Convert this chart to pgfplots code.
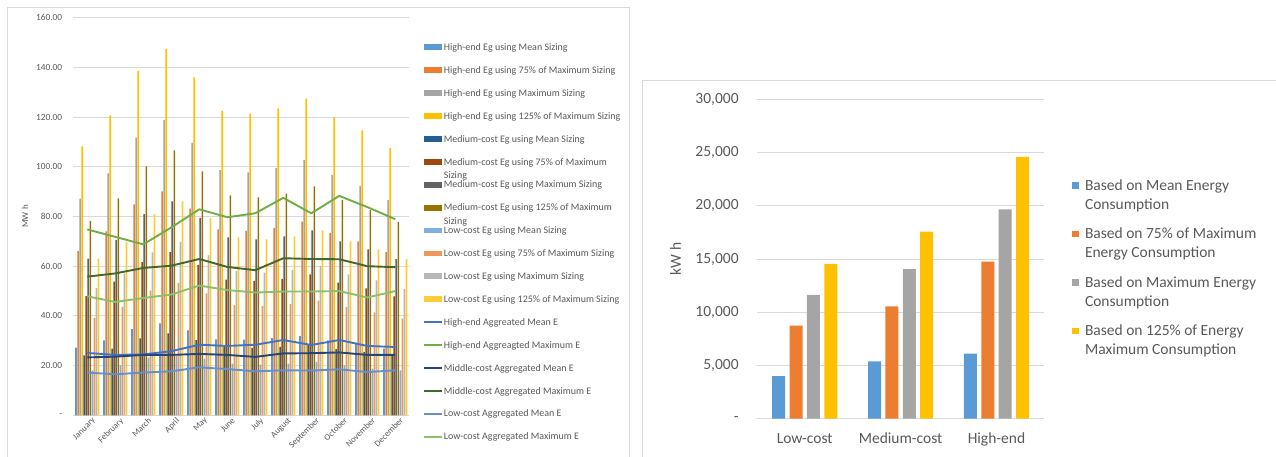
\documentclass[border=0pt]{standalone}
\usepackage{fontspec}
\setmainfont{Carlito}
\usepackage{pgfplots}
\usepackage{pgfplotstable}
\pgfplotsset{compat=1.18}
\definecolor{txt}{HTML}{595959}
\definecolor{grd}{HTML}{D9D9D9}
\definecolor{hmc}{HTML}{5B9BD5}
\definecolor{hqc}{HTML}{ED7D31}
\definecolor{hxc}{HTML}{A5A5A5}
\definecolor{hoc}{HTML}{FFC000}
\definecolor{mmc}{HTML}{255E91}
\definecolor{mqc}{HTML}{9E480E}
\definecolor{mxc}{HTML}{636363}
\definecolor{moc}{HTML}{997300}
\definecolor{lmc}{HTML}{7CAFDD}
\definecolor{lqc}{HTML}{F1975A}
\definecolor{lxc}{HTML}{B7B7B7}
\definecolor{loc}{HTML}{FFCD33}
\definecolor{l1}{HTML}{4472C4}
\definecolor{l2}{HTML}{70AD47}
\definecolor{l3}{HTML}{264478}
\definecolor{l4}{HTML}{43682B}
\definecolor{l5}{HTML}{698ED0}
\definecolor{l6}{HTML}{8CC168}

\pgfplotstableread{
x hm h75 hmax h125 mm m75 mmax m125 lm l75 lmax l125
0 27.2 66.1 87.2 108.2 24.1 48.0 63.0 78.1 18.1 39.2 51.2 63.0
1 30.2 74.0 97.4 120.7 26.8 53.8 70.6 87.3 20.1 43.6 57.1 69.8
2 34.7 84.9 111.7 138.6 31.0 61.6 81.0 100.2 23.2 50.2 65.6 81.0
3 37.0 90.1 118.8 147.5 33.0 65.7 86.1 106.6 24.2 53.2 69.7 86.1
4 34.2 83.2 109.6 136.0 30.3 60.5 79.4 98.2 22.8 49.1 64.4 79.4
5 30.6 74.8 98.7 122.5 27.5 54.6 71.6 88.5 20.8 44.3 58.1 71.6
6 30.5 74.2 97.8 121.4 27.1 54.1 70.8 87.7 20.4 44.0 57.4 70.8
7 31.1 75.4 99.5 123.5 27.5 54.9 72.0 89.2 20.8 44.7 58.4 72.0
8 31.9 77.9 102.7 127.4 28.2 56.7 74.4 92.1 21.5 46.1 60.2 74.4
9 30.1 73.4 96.7 119.9 26.6 53.4 70.0 86.7 20.1 43.5 56.7 70.0
10 28.7 70.0 92.3 114.7 25.5 51.1 66.8 82.6 18.8 41.4 54.3 66.8
11 26.8 65.7 86.6 107.6 24.1 47.9 62.8 77.7 18.1 38.9 50.8 62.8
}\bars

\pgfplotstableread{
x hlm hlx mlm mlx llm llx
0 25.1 74.8 23.3 55.8 17.2 47.9
1 24.3 71.8 23.6 57.1 16.5 45.6
2 24.5 68.8 24.3 59.3 17.2 47.2
3 25.8 75.6 24.3 60.2 17.7 48.6
4 28.4 82.9 24.7 62.9 19.3 52.2
5 27.9 79.7 24.3 59.7 18.6 50.4
6 28.4 81.3 23.5 58.4 17.7 49.4
7 30.3 87.5 24.9 63.2 18.1 49.8
8 28.3 81.3 25.0 62.9 18.0 49.8
9 30.3 88.3 25.3 62.8 18.5 50.0
10 27.9 83.8 24.3 60.0 17.4 47.4
11 27.5 78.9 24.3 59.6 18.1 50.0
}\lines

\pgfplotstableread{
x mean p75 max p125
0 4000 8740 11620 14530
1 5390 10550 14060 17570
2 6110 14750 19670 24580
}\totals

\pgfplotsset{
  lbar/.style 2 args={ybar, bar width=1.72pt, bar shift=#1, draw=none, fill=#2,
    legend image code/.code={\fill[#2] (0pt,0.3pt) rectangle (18pt,6.1pt);}},
  lline/.style={sharp plot, no markers, color=#1, line width=1.9pt, line join=round,
    legend image code/.code={\draw[#1, line width=1.9pt] (0pt,3.2pt) -- (18pt,3.2pt);}},
  rbar/.style 2 args={ybar, bar width=13pt, bar shift=#1, draw=none, fill=#2,
    legend image code/.code={\fill[#2] (0pt,1.5pt) rectangle (6.5pt,8.2pt);}},
}

\begin{document}
\begin{tikzpicture}
\useasboundingbox (0pt,0pt) rectangle (1276pt,457pt);
\draw[grd, line width=0.8pt] (7.3pt,0pt) -- (7.3pt,449.3pt) -- (629.3pt,449.3pt) -- (629.3pt,0pt);
\draw[grd, line width=0.8pt] (642.8pt,0pt) -- (642.8pt,377pt) -- (1276pt,377pt);

\begin{axis}[
  at={(73.3pt,41.7pt)}, anchor=south west,
  scale only axis, width=336pt, height=397.6pt,
  xmin=-0.5, xmax=11.5, ymin=0, ymax=160,
  xtick={0,...,11},
  xticklabels={January,February,March,April,May,June,July,August,September,October,November,December},
  ytick={0,20,...,160},
  yticklabels={-\hspace{5pt},20.00,40.00,60.00,80.00,100.00,120.00,140.00,160.00},
  axis line style={draw=none}, major tick length=0pt,
  ymajorgrids, grid style={grd, line width=0.8pt},
  yticklabel style={font=\fontsize{9.3}{11}\selectfont, text=txt, anchor=east, inner sep=0pt, xshift=-11pt},
  xticklabel style={font=\fontsize{8.7}{10}\selectfont, text=txt, rotate=45, anchor=north east, inner sep=0pt, yshift=-4pt, xshift=2pt},
  ylabel={MW h},
  ylabel style={at={(axis description cs:-0.1437,0.5)}, anchor=center, font=\fontsize{9}{11}\selectfont, text=txt},
  legend style={at={(axis description cs:1.0399,0.9351)}, anchor=north west, draw=none, fill=none,
    inner sep=0pt, outer sep=0pt, column sep=1.3pt, row sep=13.4pt,
    font=\fontsize{10}{13.3}\selectfont, cells={anchor=base west},
    nodes={inner sep=0pt, text height=7pt, text depth=2.5pt, text=txt}},
]
\addplot[lbar={-11.22pt}{hmc}] table[x=x,y=hm]{\bars};
\addlegendentry{High-end Eg using Mean Sizing}
\addplot[lbar={-9.18pt}{hqc}] table[x=x,y=h75]{\bars};
\addlegendentry{High-end Eg using 75\% of Maximum Sizing}
\addplot[lbar={-7.14pt}{hxc}] table[x=x,y=hmax]{\bars};
\addlegendentry{High-end Eg using Maximum Sizing}
\addplot[lbar={-5.10pt}{hoc}] table[x=x,y=h125]{\bars};
\addlegendentry{High-end Eg using 125\% of Maximum Sizing}
\addplot[lbar={-3.06pt}{mmc}] table[x=x,y=mm]{\bars};
\addlegendentry{Medium-cost Eg using Mean Sizing}
\addplot[lbar={-1.02pt}{mqc}] table[x=x,y=m75]{\bars};
\addlegendentry{\vtop{\hbox{Medium-cost Eg using 75\% of Maximum}\hbox{Sizing}}}
\addplot[lbar={1.02pt}{mxc}] table[x=x,y=mmax]{\bars};
\addlegendentry{Medium-cost Eg using Maximum Sizing}
\addplot[lbar={3.06pt}{moc}] table[x=x,y=m125]{\bars};
\addlegendentry{\vtop{\hbox{Medium-cost Eg using 125\% of Maximum}\hbox{Sizing}}}
\addplot[lbar={5.10pt}{lmc}] table[x=x,y=lm]{\bars};
\addlegendentry{Low-cost Eg using Mean Sizing}
\addplot[lbar={7.14pt}{lqc}] table[x=x,y=l75]{\bars};
\addlegendentry{Low-cost Eg using 75\% of Maximum Sizing}
\addplot[lbar={9.18pt}{lxc}] table[x=x,y=lmax]{\bars};
\addlegendentry{Low-cost Eg using Maximum Sizing}
\addplot[lbar={11.22pt}{loc}] table[x=x,y=l125]{\bars};
\addlegendentry{Low-cost Eg using 125\% of Maximum Sizing}
\addplot[lline=l1] table[x=x,y=hlm]{\lines};
\addlegendentry{High-end Aggreated Mean E}
\addplot[lline=l2] table[x=x,y=hlx]{\lines};
\addlegendentry{High-end Aggreagted Maximum E}
\addplot[lline=l3] table[x=x,y=mlm]{\lines};
\addlegendentry{Middle-cost Aggregated Mean E}
\addplot[lline=l4] table[x=x,y=mlx]{\lines};
\addlegendentry{Middle-cost Aggregated Maximum E}
\addplot[lline=l5] table[x=x,y=llm]{\lines};
\addlegendentry{Low-cost Aggregated Mean E}
\addplot[lline=l6] table[x=x,y=llx]{\lines};
\addlegendentry{Low-cost Aggregated Maximum E}
\end{axis}

\begin{axis}[
  at={(756.8pt,38.3pt)}, anchor=south west,
  scale only axis, width=287.6pt, height=319.4pt,
  xmin=-0.5, xmax=2.5, ymin=0, ymax=30000,
  xtick={0,1,2}, xticklabels={Low-cost,Medium-cost,High-end},
  ytick={0,5000,...,30000}, scaled y ticks=false,
  yticklabels={-\hspace{8pt},{5,000},{10,000},{15,000},{20,000},{25,000},{30,000}},
  axis line style={draw=none}, major tick length=0pt,
  ymajorgrids, grid style={grd, line width=0.8pt},
  yticklabel style={font=\fontsize{15.5}{19}\selectfont, text=txt, anchor=east, inner sep=0pt, xshift=-18pt},
  xticklabel style={font=\fontsize{15.5}{19}\selectfont, text=txt, anchor=base, inner sep=0pt, yshift=-25.3pt},
  ylabel={kW h},
  ylabel style={at={(axis description cs:-0.2827,0.5)}, anchor=center, font=\fontsize{15.5}{19}\selectfont, text=txt},
  legend style={at={(axis description cs:1.097,0.7489)}, anchor=north west, draw=none, fill=none,
    inner sep=0pt, outer sep=0pt, column sep=6.2pt, row sep=14.5pt,
    font=\fontsize{15.5}{19}\selectfont, cells={anchor=base west},
    nodes={inner sep=0pt, text height=11pt, text depth=23pt, text=txt}},
]
\addplot[rbar={-26.1pt}{hmc}] table[x=x,y=mean]{\totals};
\addlegendentry{\vtop{\hbox{Based on Mean Energy}\hbox{Consumption}}}
\addplot[rbar={-8.7pt}{hqc}] table[x=x,y=p75]{\totals};
\addlegendentry{\vtop{\hbox{Based on 75\% of Maximum}\hbox{Energy Consumption}}}
\addplot[rbar={8.7pt}{hxc}] table[x=x,y=max]{\totals};
\addlegendentry{\vtop{\hbox{Based on Maximum Energy}\hbox{Consumption}}}
\addplot[rbar={26.1pt}{hoc}] table[x=x,y=p125]{\totals};
\addlegendentry{\vtop{\hbox{Based on 125\% of Energy}\hbox{Maximum Consumption}}}
\end{axis}
\end{tikzpicture}
\end{document}
